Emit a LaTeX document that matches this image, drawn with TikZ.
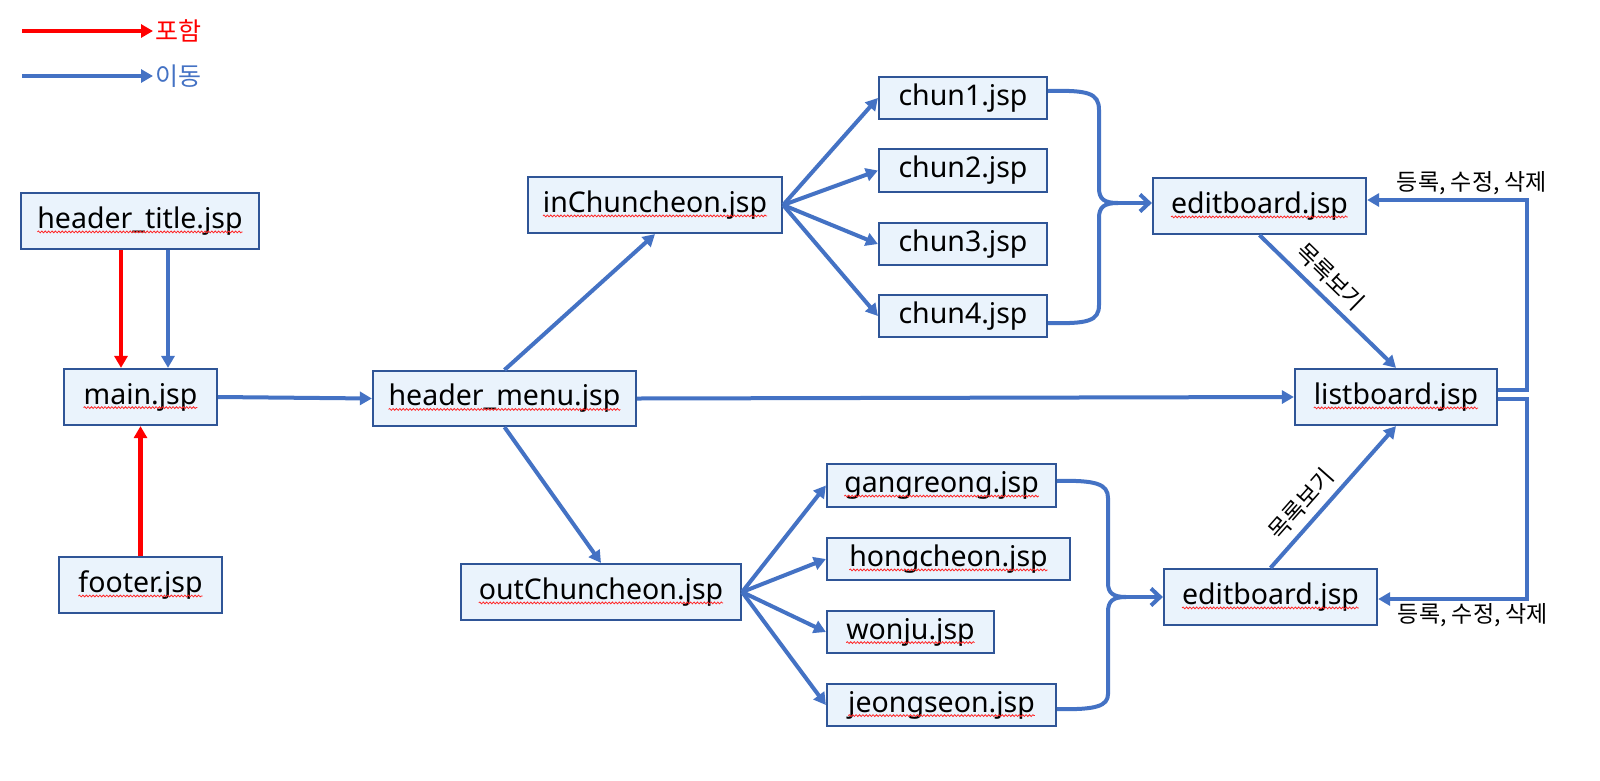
\documentclass[tikz,border=0pt]{standalone}
\usepackage{fontspec}
\setmainfont{Noto Sans}
\newfontfamily\kr{Noto Sans CJK KR}
\usetikzlibrary{arrows.meta,decorations.pathmorphing,calc}
\definecolor{arrblue}{HTML}{4472C4}
\definecolor{boxline}{HTML}{2F5597}
\definecolor{boxfill}{HTML}{EAF3FC}
\newcommand\boxfont{\fontsize{28.5}{33}\selectfont}
\newcommand\lblfont{\kr\fontsize{23}{27}\selectfont}
\newcommand\legfont{\kr\fontsize{25}{29}\selectfont}
\newlength\sqw
\newcommand\meas[1]{\setbox0=\hbox{#1}\global\sqw=\wd0\relax\box0}
\newcommand\bx[6]{\node[box,minimum width=#4pt,minimum height=#5pt] (#1) at (#2,#3) {#6};}
\newcommand\bxs[6]{\node[box,minimum width=#4pt,minimum height=#5pt] (#1) at (#2,#3) {\meas{#6}};%
  \draw[squig] ([shift={(-0.5\sqw,-3.5pt)}]#1.base) -- ([shift={(0.5\sqw,-3.5pt)}]#1.base);}
\tikzset{
  box/.style={draw=boxline, line width=2.2pt, fill=boxfill, inner sep=0pt, font=\boxfont, text=black},
  conn/.style={draw=arrblue, line width=4pt, -{Triangle[length=12pt,width=13pt]}},
  inc/.style={draw=red, line width=4.2pt, -{Triangle[length=12pt,width=13pt]}},
  plainline/.style={draw=arrblue, line width=4pt},
  openarr/.style={draw=arrblue, line width=4pt, -{Straight Barb[length=9pt,width=17pt]}},
  squig/.style={draw=red!85!white, line width=0.8pt, decorate, decoration={snake,amplitude=0.9pt,segment length=3.4pt}},
  lbl/.style={font=\lblfont, text=black, inner sep=0pt},
  mlbl/.style={font=\lblfont, text=black, inner sep=2pt},
}
\begin{document}
\begin{tikzpicture}[x=1pt,y=-1pt]
\fill[white] (0,0) rectangle (1600,780);
\useasboundingbox (0,0) rectangle (1600,780);

% legend
\coordinate (lr) at (22,31);
\coordinate (lb) at (22,76);
\node[anchor=west, font=\legfont, text=red, inner sep=2pt] (tp) at (153,31) {포함};
\node[anchor=west, font=\legfont, text=arrblue, inner sep=2pt] (tm) at (153,76) {이동};
\draw[inc] (lr) -- (tp.west);
\draw[conn] (lb) -- (tm.west);

% boxes
\bxs{htitle}{140}{221}{238}{56}{header\_title.jsp}
\bxs{main}{140.5}{397}{153}{56}{main.jsp}
\bxs{footer}{140.5}{585}{163}{56}{footer.jsp}
\bxs{hmenu}{504.5}{398.5}{263}{55}{header\_menu.jsp}
\bxs{inch}{655}{205}{254}{56}{inChuncheon.jsp}
\bxs{outch}{601}{592}{280}{56}{outChuncheon.jsp}
\bx{chun1}{963}{98}{168}{42}{chun1.jsp}
\bx{chun2}{963}{170.5}{168}{43}{chun2.jsp}
\bx{chun3}{963}{244}{168}{42}{chun3.jsp}
\bx{chun4}{963}{316}{168}{42}{chun4.jsp}
\bxs{gang}{941.5}{485.5}{229}{43}{gangreong.jsp}
\bxs{hong}{948.5}{559}{243}{42}{hongcheon.jsp}
\bxs{wonju}{910.5}{632}{167}{42}{wonju.jsp}
\bxs{jeong}{941.5}{705}{229}{42}{jeongseon.jsp}
\bxs{edit1}{1259.5}{206}{213}{56}{editboard.jsp}
\bxs{list}{1396}{397}{202}{56}{listboard.jsp}
\bxs{edit2}{1270.5}{597}{213}{56}{editboard.jsp}

% left part
\coordinate (xr) at (121,0);
\coordinate (xb) at (168,0);
\draw[inc] (htitle.south -| xr) -- (main.north -| xr);
\draw[conn] (htitle.south -| xb) -- (main.north -| xb);
\draw[inc] (footer.north) -- (main.south);
\draw[conn] (main.east) -- (hmenu.west);

% header_menu
\draw[conn] (hmenu.north) -- (inch.south);
\draw[conn] (hmenu.south) -- (outch.north);
\draw[conn] (hmenu.east) -- (list.west);

% inChuncheon fan
\foreach \t in {chun1,chun2,chun3,chun4} \draw[conn] (inch.east) -- (\t.west);
% outChuncheon fan
\foreach \t in {gang,hong,wonju,jeong} \draw[conn] (outch.east) -- (\t.west);

% brace 1
\coordinate (bt1) at (1118,203);
\draw[plainline] ([yshift=7pt]chun1.east) .. controls (1088,90) and (1099,93) .. (1099,110) -- (1099,188)
   .. controls (1099,199) and (1104,203) .. (bt1);
\draw[plainline] ([yshift=-7pt]chun4.east) .. controls (1088,324) and (1099,321) .. (1099,305) -- (1099,218)
   .. controls (1099,207) and (1104,203) .. (bt1);
\draw[openarr] (bt1) -- (bt1 -| edit1.west);

% brace 2
\coordinate (bt2) at (1126,597);
\draw[plainline] ([yshift=4.5pt]gang.east) .. controls (1096,480) and (1108,484) .. (1108,498) -- (1108,583)
   .. controls (1108,593) and (1113,597) .. (bt2);
\draw[plainline] ([yshift=-4pt]jeong.east) .. controls (1096,710) and (1108,706) .. (1108,694) -- (1108,612)
   .. controls (1108,601) and (1113,597) .. (bt2);
\draw[openarr] (bt2) -- (bt2 -| edit2.west);

% board relations
\draw[conn] (edit1.south) -- node[pos=0.42, sloped, above=5pt, mlbl] (m1) {목록보기} (list.north);
\draw[conn] (edit2.north) -- node[pos=0.36, sloped, above=5pt, mlbl] (m2) {목록보기} (list.south);

\coordinate (rx) at (1527,0);
\coordinate (lo1) at ([yshift=7pt]list.east);
\coordinate (lo2) at ([yshift=-2pt]list.east);
\coordinate (ei1) at ([yshift=6pt]edit1.east);
\coordinate (ei2) at ([yshift=-2pt]edit2.east);
\draw[conn] (lo1) -- (lo1 -| rx) |- (ei1);
\draw[conn] (lo2) -- (lo2 -| rx) |- (ei2);
\node[lbl] (l1) at (1472,183) {등록, 수정, 삭제};
\node[lbl] (l2) at (1473,615) {등록, 수정, 삭제};
\end{tikzpicture}
\end{document}
